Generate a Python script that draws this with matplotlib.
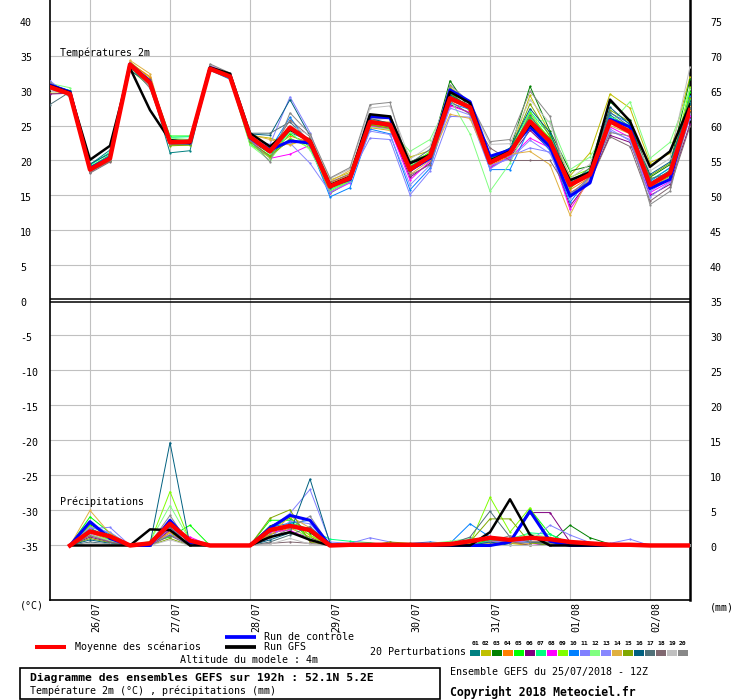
import numpy as np
import matplotlib
matplotlib.use("Agg")
import matplotlib.pyplot as plt
from matplotlib import transforms
from matplotlib.patches import Rectangle

plt.rcParams["font.family"] = ["DejaVu Sans Mono"]

# 6-hourly steps of the 25/07/2018 12Z run
hours = np.arange(0, 193, 6)
date_labels = ["26/07", "27/07", "28/07", "29/07", "30/07", "31/07", "01/08", "02/08"]
date_hours = [12, 36, 60, 84, 108, 132, 156, 180]

member_colors = [
    "#008080", "#c0c000", "#008000", "#ff8000", "#00ff00",
    "#800080", "#00ff80", "#ff00ff", "#80ff00", "#0080ff",
    "#8080ff", "#80ff80", "#8888ff", "#e0b040", "#80a800",
    "#006080", "#507078", "#806870", "#c0c0c0", "#888888",
]

# temperature 2m (degC)
temp_mean = [30.5, 29.5, 18.7, 20.3, 33.7, 31.1, 22.6, 22.7, 33.1, 32.0, 23.4,
             21.3, 24.7, 22.7, 16.3, 17.5, 25.5, 25.1, 18.7, 20.6, 28.9, 27.6,
             19.7, 21.1, 25.6, 22.7, 16.5, 18.0, 25.6, 24.1, 16.5, 18.2, 27.2]
temp_gfs = [30.7, 29.7, 20.1, 22.1, 33.2, 27.2, 22.9, 22.5, 33.3, 32.4, 23.9,
            22.0, 24.4, 22.9, 16.5, 17.7, 26.6, 26.3, 19.6, 20.8, 29.8, 28.2,
            20.0, 21.3, 25.2, 22.8, 17.2, 18.3, 28.7, 25.6, 19.1, 21.3, 28.0]
temp_control = [30.8, 29.8, 18.9, 20.4, 33.8, 31.3, 22.6, 22.5, 33.2, 32.1, 23.2,
                21.5, 22.8, 22.5, 16.4, 17.3, 26.3, 26.1, 18.6, 20.3, 30.1, 28.4,
                20.6, 21.5, 24.8, 22.0, 14.9, 16.8, 25.9, 24.8, 16.0, 17.3, 27.5]

# one row per 6h step, members 01..20
temp_by_step = [
    [30.6, 29.6, 30.9, 30.5, 30.7, 29.5, 30.8, 30.4, 30.6, 31.0, 31.3, 31.0, 31.4, 30.3, 30.5, 30.9, 28.0, 30.2, 31.1, 31.2],  # 0h
    [29.8, 29.7, 29.9, 29.5, 30.0, 29.6, 29.8, 29.4, 29.7, 29.5, 29.2, 30.4, 29.1, 29.6, 29.5, 29.9, 29.8, 29.3, 29.4, 29.0],
    [19.4, 18.6, 18.9, 18.7, 19.1, 18.5, 19.3, 18.8, 18.6, 19.0, 18.3, 18.9, 18.4, 18.7, 18.5, 19.5, 18.4, 18.2, 18.6, 18.3],
    [21.5, 20.1, 20.6, 20.4, 20.8, 19.9, 21.2, 20.3, 20.0, 20.7, 20.2, 20.5, 20.1, 20.4, 19.9, 21.0, 20.3, 19.8, 20.2, 20.0],
    [33.6, 34.1, 33.8, 33.9, 33.5, 33.4, 33.3, 33.7, 33.0, 33.5, 33.8, 33.2, 33.9, 34.3, 33.6, 32.9, 33.4, 33.7, 34.0, 33.8],  # 24h
    [31.0, 31.8, 31.3, 32.0, 31.5, 30.8, 31.2, 31.4, 30.6, 31.1, 30.9, 31.3, 30.7, 32.4, 31.0, 30.9, 30.4, 31.6, 30.5, 30.3],
    [21.1, 22.3, 23.0, 22.8, 23.5, 22.5, 23.3, 22.9, 22.2, 22.7, 22.4, 23.2, 22.6, 22.4, 22.1, 22.8, 22.3, 22.5, 22.7, 22.4],
    [21.4, 22.3, 22.9, 22.6, 23.5, 22.5, 23.4, 22.8, 22.2, 22.7, 22.5, 23.0, 22.6, 22.4, 22.2, 22.9, 22.4, 22.6, 22.8, 22.5],
    [33.1, 33.0, 33.3, 33.2, 33.0, 33.5, 33.2, 33.6, 32.9, 32.9, 33.4, 33.1, 33.5, 33.3, 33.0, 33.2, 33.4, 33.3, 33.7, 33.8],  # 48h
    [31.9, 32.0, 32.1, 31.8, 32.2, 32.3, 31.9, 32.4, 31.7, 31.6, 32.1, 31.8, 32.2, 31.9, 31.8, 32.0, 32.1, 32.2, 32.4, 32.5],
    [23.2, 23.6, 22.9, 23.4, 22.6, 23.3, 22.4, 23.1, 22.3, 22.8, 23.0, 22.2, 23.5, 23.7, 22.7, 23.8, 23.9, 23.0, 23.3, 22.9],
    [21.8, 23.2, 21.0, 21.5, 20.7, 21.3, 20.5, 20.3, 20.4, 21.6, 22.3, 20.0, 21.9, 23.0, 20.6, 23.6, 23.9, 21.2, 21.0, 19.8],
    [24.0, 22.3, 22.8, 23.5, 23.8, 22.6, 24.3, 20.9, 23.2, 26.2, 29.1, 24.1, 22.5, 22.2, 23.0, 28.7, 25.5, 25.8, 25.0, 26.8],  # 72h
    [22.8, 23.2, 22.4, 22.6, 22.0, 22.9, 23.0, 22.2, 21.8, 22.1, 24.0, 21.5, 19.6, 23.3, 22.3, 23.5, 22.7, 23.4, 23.6, 23.8],
    [16.0, 17.2, 16.5, 16.8, 15.3, 16.2, 15.8, 15.4, 15.6, 14.8, 16.4, 15.9, 15.5, 17.0, 16.6, 16.1, 16.3, 16.9, 17.4, 17.5],
    [17.3, 18.3, 17.6, 18.0, 17.0, 17.4, 17.2, 16.8, 17.1, 16.1, 17.8, 17.5, 16.9, 18.6, 17.7, 17.3, 17.5, 18.1, 18.8, 19.0],
    [25.2, 25.6, 25.8, 24.7, 25.4, 25.0, 25.6, 24.9, 25.3, 24.5, 23.2, 24.8, 24.2, 25.7, 25.1, 26.0, 26.5, 25.9, 27.5, 28.0],  # 96h
    [24.8, 25.4, 25.2, 24.3, 25.0, 24.7, 24.9, 24.5, 24.6, 23.8, 23.0, 24.4, 23.7, 25.5, 24.6, 25.3, 26.3, 26.0, 27.8, 28.3],
    [18.3, 20.5, 19.8, 18.5, 19.2, 17.6, 19.0, 17.2, 19.4, 15.8, 15.1, 21.3, 16.5, 18.0, 18.8, 19.1, 19.6, 17.9, 20.2, 18.6],
    [20.9, 21.4, 21.0, 20.2, 20.6, 19.6, 21.3, 19.9, 21.2, 18.9, 18.5, 23.0, 19.3, 20.0, 20.8, 20.4, 21.6, 19.4, 22.1, 20.7],
    [29.2, 30.5, 31.4, 28.6, 29.5, 28.0, 29.0, 27.8, 29.8, 28.2, 26.3, 28.8, 27.5, 26.6, 29.7, 29.4, 30.2, 28.5, 30.0, 30.8],  # 120h
    [27.8, 28.0, 27.2, 27.4, 27.6, 26.8, 27.9, 26.9, 27.0, 27.3, 26.2, 23.8, 26.5, 26.0, 27.5, 27.7, 28.1, 26.6, 28.2, 28.3],
    [20.0, 19.6, 20.4, 19.2, 20.2, 19.0, 20.5, 19.1, 19.4, 18.7, 18.8, 15.6, 19.3, 19.5, 19.8, 20.3, 20.6, 21.8, 22.3, 22.7],
    [21.4, 21.2, 21.5, 20.7, 21.6, 20.5, 21.7, 20.4, 21.0, 18.7, 20.6, 19.6, 20.2, 20.9, 21.3, 21.8, 21.1, 20.0, 22.4, 23.0],
    [26.0, 29.3, 30.6, 25.4, 26.2, 24.3, 27.0, 23.2, 26.8, 24.8, 21.8, 25.8, 22.9, 21.3, 28.1, 27.4, 26.5, 20.0, 28.7, 29.9],  # 144h
    [22.5, 23.8, 24.2, 22.0, 23.2, 21.6, 23.6, 21.8, 22.9, 21.4, 21.2, 25.6, 21.0, 19.4, 23.4, 24.0, 22.6, 20.0, 25.3, 26.3],
    [16.8, 17.8, 18.5, 15.8, 16.4, 13.5, 17.2, 13.0, 17.6, 14.0, 15.2, 18.7, 14.6, 12.2, 16.0, 17.0, 16.6, 15.4, 17.4, 15.0],
    [18.2, 21.1, 19.2, 17.6, 18.0, 17.2, 18.6, 17.3, 18.8, 17.8, 17.5, 20.5, 17.4, 17.9, 18.4, 18.5, 19.0, 17.0, 19.5, 17.7],
    [26.5, 29.5, 28.4, 26.0, 25.8, 23.6, 26.2, 24.8, 25.4, 26.8, 24.2, 25.2, 24.5, 25.0, 27.2, 27.6, 26.9, 23.4, 25.6, 24.0],  # 168h
    [24.6, 27.5, 25.8, 24.0, 24.3, 22.6, 25.0, 23.3, 24.5, 25.3, 23.0, 28.4, 22.8, 23.8, 25.5, 25.1, 24.8, 22.0, 24.2, 23.5],
    [16.8, 19.7, 17.6, 16.2, 16.0, 15.0, 17.2, 15.4, 16.6, 17.0, 15.6, 20.3, 14.8, 16.4, 17.8, 18.0, 17.4, 14.2, 18.5, 13.7],
    [18.6, 21.0, 19.4, 18.0, 17.8, 16.6, 18.9, 17.0, 18.4, 19.0, 17.4, 22.6, 16.9, 17.6, 19.6, 19.8, 18.2, 16.2, 20.3, 15.6],
    [28.4, 32.0, 31.6, 27.2, 29.8, 25.2, 28.8, 26.3, 30.5, 29.2, 26.0, 30.2, 26.6, 27.8, 29.0, 28.1, 27.5, 24.9, 33.4, 26.8],  # 192h
]

# precipitation (mm), from +6h to +192h
precip_mean = [0.0, 2.0, 1.3, 0.0, 0.3, 3.1, 0.7, 0.0, 0.0, 0.0, 2.2, 2.8, 2.2, 0.0,
               0.1, 0.1, 0.1, 0.1, 0.1, 0.2, 0.6, 1.1, 0.8, 1.1, 0.9, 0.5, 0.3, 0.1,
               0.1, 0.0, 0.0, 0.0]
precip_gfs = [0.0, 0.0, 0.0, 0.0, 2.3, 2.2, 0.0, 0.0, 0.0, 0.0, 1.2, 1.9, 0.8, 0.0,
              0.0, 0.0, 0.0, 0.0, 0.0, 0.0, 0.0, 1.9, 6.6, 1.5, 0.0, 0.0, 0.0, 0.0,
              0.0, 0.0, 0.0, 0.0]
precip_control = [0.0, 3.4, 1.0, 0.0, 0.0, 3.6, 0.4, 0.0, 0.0, 0.0, 2.5, 4.3, 3.6, 0.0,
                  0.0, 0.0, 0.0, 0.0, 0.0, 0.0, 0.0, 0.0, 0.5, 4.9, 0.6, 0.0, 0.0, 0.0,
                  0.0, 0.0, 0.0, 0.0]
zero_row = [0.0] * 20
precip_by_step = [
    zero_row,  # 6h
    [2.5, 1.8, 3.0, 2.2, 4.1, 1.2, 2.0, 1.6, 2.8, 3.2, 2.4, 1.5, 2.6, 5.0, 1.0, 0.8, 0.5, 1.4, 0.3, 2.1],
    [1.0, 0.8, 1.4, 1.2, 1.8, 0.5, 0.9, 0.6, 1.3, 1.6, 2.6, 0.7, 1.9, 1.7, 0.4, 0.3, 0.2, 0.5, 0.2, 1.1],
    zero_row,  # 24h
    [0.3, 0, 0.2, 0, 0.5, 0, 0, 0, 0.4, 0, 0, 0.6, 0, 0, 0, 0.2, 0, 0, 0, 0.3],
    [3.0, 2.0, 1.5, 1.8, 1.2, 2.2, 2.8, 2.4, 7.7, 3.2, 2.5, 5.7, 1.6, 3.4, 1.0, 14.7, 2.6, 1.4, 0.8, 4.3],
    [0.4, 0, 0.3, 0, 2.9, 0.8, 0.9, 1.2, 0.6, 0.5, 0.5, 0.7, 0, 0, 0, 0, 0, 0, 0, 0],
    zero_row,  # 48h
    zero_row,
    zero_row,
    [1.5, 2.0, 2.8, 1.6, 3.6, 1.2, 1.8, 1.9, 2.2, 2.6, 2.4, 2.5, 1.0, 1.4, 3.9, 0.8, 0.5, 0.3, 0.2, 1.1],
    [2.8, 3.0, 3.9, 2.5, 3.6, 2.0, 3.3, 2.2, 4.0, 3.2, 4.6, 2.7, 3.5, 4.2, 5.1, 1.8, 1.5, 0.5, 1.0, 2.4],  # 72h
    [2.0, 1.5, 1.8, 1.2, 0.9, 1.1, 2.3, 0.7, 1.4, 3.6, 8.0, 1.0, 3.1, 2.5, 0.5, 9.5, 2.7, 0.3, 0.2, 4.2],
    [0, 0, 0, 0, 0, 0, 0.9, 0, 0, 0, 0.5, 0, 0, 0, 0, 0.3, 0, 0, 0, 0],
    [0, 0, 0, 0, 0, 0, 0.6, 0, 0, 0, 0.3, 0, 0, 0, 0, 0, 0, 0, 0, 0],
    [0, 0.2, 0, 0, 0, 0, 0.4, 0, 0, 0, 1.1, 0, 0, 0, 0, 0, 0, 0, 0, 0],  # 96h
    [0, 0, 0, 0, 0, 0, 0, 0, 0.2, 0, 0.5, 0, 0, 0, 0.5, 0, 0, 0, 0, 0],
    [0, 0, 0, 0, 0, 0, 0, 0, 0, 0.3, 0, 0, 0, 0, 0.3, 0, 0, 0, 0, 0],
    [0, 0, 0, 0, 0, 0, 0, 0, 0, 0.5, 0, 0.3, 0, 0, 0, 0, 0, 0, 0, 0],
    [0, 0, 0, 0, 0, 0, 0, 0, 0, 0.3, 0, 0.6, 0, 0, 0, 0, 0.2, 0, 0, 0],  # 120h
    [0, 0, 0, 0, 0, 0, 0, 0, 0.3, 3.1, 0, 1.0, 0, 0, 0.5, 0, 1.2, 0, 0, 0.9],
    [0.4, 0.4, 0.8, 0.6, 0.9, 0, 0.7, 1.3, 6.9, 1.2, 0.5, 1.0, 0.3, 0.3, 3.8, 0.5, 4.9, 0, 0, 0.6],
    [0.3, 0.3, 0.4, 0.5, 0.6, 0.5, 0.9, 0.8, 1.9, 0.5, 0.7, 1.0, 0.5, 0.4, 3.8, 0, 1.2, 0.6, 0, 1.4],
    [0.4, 0, 0.5, 0, 5.2, 4.7, 1.8, 0.3, 5.4, 0.4, 0.6, 1.6, 0.5, 0.3, 0.4, 0, 0.5, 0, 0, 0.6],  # 144h
    [0.3, 0, 0.4, 0, 1.6, 4.7, 1.6, 0, 0.8, 0, 2.9, 1.2, 0.6, 0.3, 0, 0, 0.2, 0, 0, 0.5],
    [0, 0, 2.9, 0, 0.3, 0.5, 0.3, 0, 0, 0, 1.5, 0, 0.6, 0, 0, 0, 0, 0, 0, 0.3],
    [0, 0, 1.1, 0, 0, 0, 0, 0, 0, 0, 0.4, 0, 0, 0, 0, 0, 0, 0, 0, 0],
    [0, 0, 0.2, 0, 0, 0, 0, 0, 0, 0, 0.3, 0, 0, 0, 0, 0, 0, 0, 0, 0],  # 168h
    [0, 0, 0, 0, 0, 0, 0, 0, 0, 0, 0.9, 0, 0, 0, 0, 0, 0, 0, 0, 0],
    zero_row,
    zero_row,
    zero_row,  # 192h
]

PRECIP_BASE = -35  # precipitation zero sits on the -35 line

temp_members = np.array(temp_by_step).T
precip_members = np.array(precip_by_step).T

fig = plt.figure(figsize=(7.4, 7.0), dpi=100)
ax = fig.add_axes([50 / 740, 100 / 700, 640 / 740, 600 / 700])
ax.set_xlim(0, 192)
ax.set_ylim(-42.79, 42.93)
ax.set_xticks([])
ax.set_yticks([])
for side in ["left", "bottom"]:
    ax.spines[side].set_linewidth(1.2)
ax.spines["right"].set_linewidth(1.8)
ax.spines["top"].set_visible(False)

grid_color = "#c0c0c0"
for v in list(range(5, 41, 5)) + list(range(-35, 0, 5)):
    ax.axhline(v, color=grid_color, lw=0.8, zorder=1)
for h in date_hours:
    ax.axvline(h, color=grid_color, lw=0.8, zorder=1)
ax.axhline(0.2, color="black", lw=1.1, zorder=2)
ax.axhline(-0.15, color="black", lw=1.1, zorder=2)

# ensemble members
for i in range(20):
    ax.plot(hours, temp_members[i], color=member_colors[i], lw=0.7,
            marker="o", ms=1.6, mew=0, zorder=3)
    ax.plot(hours[1:], PRECIP_BASE + precip_members[i], color=member_colors[i],
            lw=0.7, marker="o", ms=1.6, mew=0, zorder=3)

ax.plot(hours, temp_control, color="#0000ff", lw=2.2, zorder=4)
ax.plot(hours[1:], PRECIP_BASE + np.array(precip_control), color="#0000ff", lw=2.2, zorder=4)
ax.plot(hours, temp_gfs, color="black", lw=1.8, zorder=5)
ax.plot(hours[1:], PRECIP_BASE + np.array(precip_gfs), color="black", lw=1.8, zorder=5)
ax.plot(hours, temp_mean, color="#ff0000", lw=3.2, zorder=6)
ax.plot(hours[1:], PRECIP_BASE + np.array(precip_mean), color="#ff0000", lw=3.2, zorder=6)

fs = 7.2
# y labels: left degC, right = left + 35
ytrans = transforms.blended_transform_factory(ax.transAxes, ax.transData)
for v in list(range(40, -40, -5)):
    ax.text(-30 / 640, v - 0.35, str(v), transform=ytrans, ha="left",
            va="center", fontsize=fs, clip_on=False)
    ax.text(660 / 640, v - 0.35, str(v + 35), transform=ytrans, ha="left",
            va="center", fontsize=fs, clip_on=False)

xtrans = transforms.blended_transform_factory(ax.transData, ax.transAxes)
xtrans = transforms.offset_copy(xtrans, fig=fig, x=6, y=-2, units="dots")
for h, lab in zip(date_hours, date_labels):
    ax.text(h, 0, lab, transform=xtrans, rotation=90, ha="center", va="top",
            fontsize=fs, clip_on=False)

ax.text(10 / 640, 35.4, "Températures 2m", transform=ytrans, fontsize=fs,
        va="center", zorder=7)
ax.text(10 / 640, -28.8, "Précipitations", transform=ytrans, fontsize=fs,
        va="center", zorder=7)

# footer, drawn in pixel coordinates
ov = fig.add_axes([0, 0, 1, 1])
ov.set_xlim(0, 740)
ov.set_ylim(700, 0)
ov.axis("off")

ov.text(20, 606, "(°C)", fontsize=fs, va="center")
ov.text(710, 607, "(mm)", fontsize=fs, va="center")

ov.plot([35, 66], [647, 647], color="#ff0000", lw=2.9, solid_capstyle="butt")
ov.text(75, 647, "Moyenne des scénarios", fontsize=fs, va="center")
ov.plot([225, 256], [637, 637], color="#0000ff", lw=2.7, solid_capstyle="butt")
ov.text(264, 637, "Run de contrôle", fontsize=fs, va="center")
ov.plot([225, 256], [647, 647], color="black", lw=2.7, solid_capstyle="butt")
ov.text(264, 647, "Run GFS", fontsize=fs, va="center")
ov.text(180, 660, "Altitude du modele : 4m", fontsize=fs, va="center")

ov.text(370, 652, "20 Perturbations", fontsize=fs, va="center")
for i, c in enumerate(member_colors):
    x0 = 470 + i * 10.95
    ov.add_patch(Rectangle((x0, 650.3), 10, 5.5, color=c, lw=0))
    ov.text(x0 + 5, 643.5, "%02d" % (i + 1), fontsize=4.6, fontweight="bold",
            ha="center", va="center")

ov.add_patch(Rectangle((20, 667.7), 420, 31.3, fill=False, ec="black", lw=1.2))
ov.text(30, 677.5, "Diagramme des ensembles GEFS sur 192h : 52.1N 5.2E",
        fontsize=8.2, fontweight="bold", va="center")
ov.text(30, 691, "Température 2m (°C) , précipitations (mm)", fontsize=fs,
        va="center")
ov.text(450, 672, "Ensemble GEFS du 25/07/2018 - 12Z", fontsize=fs, va="center")
ov.text(450, 692, "Copyright 2018 Meteociel.fr", fontsize=8.3,
        fontweight="bold", va="center")

fig.savefig("out.png", dpi=100)
